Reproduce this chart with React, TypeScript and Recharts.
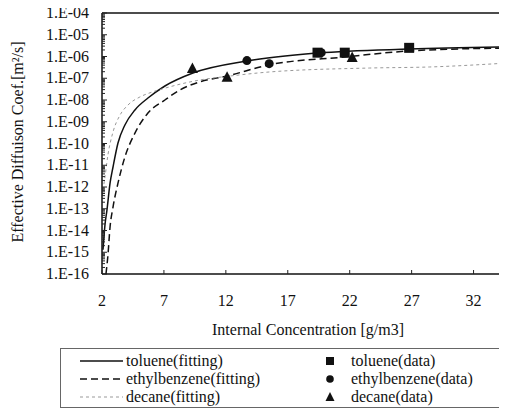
import React from "react";
import {
  ComposedChart,
  Line,
  Scatter,
  XAxis,
  YAxis,
  ReferenceLine,
} from "recharts";

// fitted curves (x = g/m3, y = m2/s)
const tolueneFitX = [2.08, 2.24, 2.4, 2.65, 2.89, 3.29, 3.85, 4.66, 5.71, 7.08, 9.34, 13.69, 19.42, 26.84, 34.7];
const tolueneFitY = [1.3e-15, 1.8e-14, 8.7e-14, 1.5e-12, 8.3e-12, 1.05e-10, 7.1e-10, 3.5e-9, 1.23e-8, 4.4e-8, 1.74e-7, 6.2e-7, 1.45e-6, 2.2e-6, 2.75e-6];

const ethylFitX = [2.32, 2.48, 2.65, 2.89, 3.29, 3.85, 4.66, 5.71, 7.08, 8.29, 9.9, 12.08, 15.47, 21.6, 26.84, 34.7];
const ethylFitY = [1e-16, 7.4e-16, 1.45e-14, 1.2e-13, 1.5e-12, 2.4e-11, 3e-10, 2.5e-9, 1e-8, 2.9e-8, 6.8e-8, 1.26e-7, 4.1e-7, 9.5e-7, 1.8e-6, 2.45e-6];

const decaneFitX = [2.0, 2.24, 2.48, 2.89, 3.45, 4.1, 5.06, 6.03, 7.08, 9.9, 12.32, 15.55, 23.6, 28.45, 34.7];
const decaneFitY = [3.9e-13, 2.9e-12, 3e-11, 3.4e-10, 2e-9, 5.9e-9, 1.38e-8, 2.3e-8, 3.5e-8, 8.3e-8, 1.26e-7, 1.95e-7, 2.95e-7, 3.3e-7, 5e-7];

// measured points
const tolueneDataX = [19.4, 21.6, 26.8];
const tolueneDataY = [1.5e-6, 1.5e-6, 2.5e-6];
const ethylDataX = [13.7, 15.5, 19.7];
const ethylDataY = [6.5e-7, 4.7e-7, 1.5e-6];
const decaneDataX = [9.3, 12.1, 22.2];
const decaneDataY = [2.8e-7, 1.1e-7, 8.9e-7];

const xTicks = [2, 7, 12, 17, 22, 27, 32];
const yMajor = [1e-4, 1e-5, 1e-6, 1e-7, 1e-8, 1e-9, 1e-10, 1e-11, 1e-12, 1e-13, 1e-14, 1e-15, 1e-16];
const yLabels = ["1.E-04", "1.E-05", "1.E-06", "1.E-07", "1.E-08", "1.E-09", "1.E-10", "1.E-11", "1.E-12", "1.E-13", "1.E-14", "1.E-15", "1.E-16"];

const legendFit = ["toluene(fitting)", "ethylbenzene(fitting)", "decane(fitting)"];
const legendData = ["toluene(data)", "ethylbenzene(data)", "decane(data)"];

const zip = (xs: number[], ys: number[]) => xs.map((x, i) => ({ x, y: ys[i] }));

// log minor ticks between the labelled decades
const yTicks: number[] = [];
for (let e = -16; e < -4; e++) {
  for (let k = 1; k <= 9; k++) yTicks.push(Number((k * Math.pow(10, e)).toPrecision(3)));
}
yTicks.push(1e-4);

const FONT = '"Liberation Serif", "Times New Roman", serif';
const textStyle = { fontFamily: FONT };

function YTick(props: any) {
  const { x, y, payload } = props;
  const lg = Math.log10(payload.value);
  const idx = yMajor.findIndex((m) => Math.abs(Math.log10(m) - lg) < 1e-6);
  const major = idx >= 0;
  return (
    <g>
      <line x1={x} x2={x + (major ? 5 : 3)} y1={y} y2={y} stroke="#222" strokeWidth={1} />
      {major && (
        <text x={x - 13} y={y} dy={5} textAnchor="end" fontSize={16} style={textStyle} fill="#111">
          {yLabels[idx]}
        </text>
      )}
    </g>
  );
}

function XTick(props: any) {
  const { x, y, payload } = props;
  return (
    <g>
      <line x1={x} x2={x} y1={y} y2={y - 4} stroke="#222" strokeWidth={1} />
      <text x={x} y={y + 32} textAnchor="middle" fontSize={16} style={textStyle} fill="#111">
        {payload.value}
      </text>
    </g>
  );
}

const squareShape = (p: any) => <rect x={p.cx - 5} y={p.cy - 5} width={10} height={10} fill="#111" />;
const circleShape = (p: any) => <circle cx={p.cx} cy={p.cy} r={4.5} fill="#111" />;
const triangleShape = (p: any) => (
  <polygon points={`${p.cx},${p.cy - 6} ${p.cx - 5.5},${p.cy + 4.5} ${p.cx + 5.5},${p.cy + 4.5}`} fill="#111" />
);

const legendSquare = (cx: number, cy: number) => <rect x={cx - 4} y={cy - 4} width={8} height={8} fill="#111" />;
const legendCircle = (cx: number, cy: number) => <circle cx={cx} cy={cy} r={3.8} fill="#111" />;
const legendTriangle = (cx: number, cy: number) => (
  <polygon points={`${cx},${cy - 5} ${cx - 4.5},${cy + 4} ${cx + 4.5},${cy + 4}`} fill="#111" />
);

const fitStyles = [
  { stroke: "#111", dash: undefined, width: 1.5 },
  { stroke: "#111", dash: "7 4", width: 1.5 },
  { stroke: "#999", dash: "3 3", width: 1 },
];
const markerShapes = [squareShape, circleShape, triangleShape];
const legendMarkers = [legendSquare, legendCircle, legendTriangle];

function LegendBox() {
  const rowY = (i: number) => 13 + i * 18;
  return (
    <div
      style={{
        position: "absolute",
        left: 52,
        top: 340,
        width: 440,
        height: 60,
        border: "1px solid #666",
        boxSizing: "border-box",
      }}
    >
      <svg width={440} height={60} style={{ position: "absolute", left: -1, top: -1 }}>
        {legendFit.map((t, i) => (
          <g key={t}>
            <line
              x1={20}
              x2={63}
              y1={rowY(i)}
              y2={rowY(i)}
              stroke={fitStyles[i].stroke}
              strokeWidth={fitStyles[i].width}
              strokeDasharray={fitStyles[i].dash}
            />
            <text x={66} y={rowY(i)} dy={5} fontSize={16} style={textStyle} fill="#111">
              {t}
            </text>
          </g>
        ))}
        {legendData.map((t, i) => (
          <g key={t}>
            {legendMarkers[i](270, rowY(i))}
            <text x={291} y={rowY(i)} dy={5} fontSize={16} style={textStyle} fill="#111">
              {t}
            </text>
          </g>
        ))}
      </svg>
    </div>
  );
}

export default function App() {
  const fits = [zip(tolueneFitX, tolueneFitY), zip(ethylFitX, ethylFitY), zip(decaneFitX, decaneFitY)];
  const points = [zip(tolueneDataX, tolueneDataY), zip(ethylDataX, ethylDataY), zip(decaneDataX, decaneDataY)];

  return (
    <div style={{ position: "relative", width: 499, height: 402, background: "#fff", fontFamily: FONT }}>
      <style>{"svg.recharts-surface { overflow: visible; } svg text { font-family: \"Liberation Serif\", serif; }"}</style>
      <ComposedChart width={499} height={340} margin={{ top: 5, right: 0, bottom: 14, left: 0 }}>
        <XAxis
          type="number"
          dataKey="x"
          domain={[2, 34.7]}
          allowDataOverflow
          ticks={xTicks}
          interval={0}
          tickSize={0}
          tickMargin={0}
          tick={<XTick />}
          height={60}
          axisLine={{ stroke: "#111", strokeWidth: 1.5 }}
          label={() => (
            <text x={300} y={327} textAnchor="middle" fontSize={16} style={textStyle} fill="#111">
              Internal Concentration [g/m3]
            </text>
          )}
        />
        <YAxis
          type="number"
          dataKey="y"
          scale="log"
          domain={[1e-16, 1e-4]}
          allowDataOverflow
          ticks={yTicks}
          interval={0}
          tickSize={0}
          tickMargin={0}
          tick={<YTick />}
          width={94}
          axisLine={{ stroke: "#111", strokeWidth: 1.5 }}
          label={() => (
            <text
              x={15}
              y={134}
              transform="rotate(-90 15 134)"
              textAnchor="middle"
              fontSize={16}
              style={textStyle}
              fill="#111"
            >
              Effective Diffuison Coef.[m²/s]
            </text>
          )}
        />
        <ReferenceLine y={1e-4} stroke="#111" strokeWidth={1.5} />
        {fits.map((d, i) => (
          <Line
            key={"fit" + i}
            data={d}
            dataKey="y"
            type="monotone"
            stroke={fitStyles[i].stroke}
            strokeWidth={fitStyles[i].width}
            strokeDasharray={fitStyles[i].dash}
            dot={false}
            activeDot={false}
            isAnimationActive={false}
          />
        ))}
        {points.map((d, i) => (
          <Scatter key={"pts" + i} data={d} dataKey="y" shape={markerShapes[i]} isAnimationActive={false} />
        ))}
      </ComposedChart>
      <LegendBox />
    </div>
  );
}
